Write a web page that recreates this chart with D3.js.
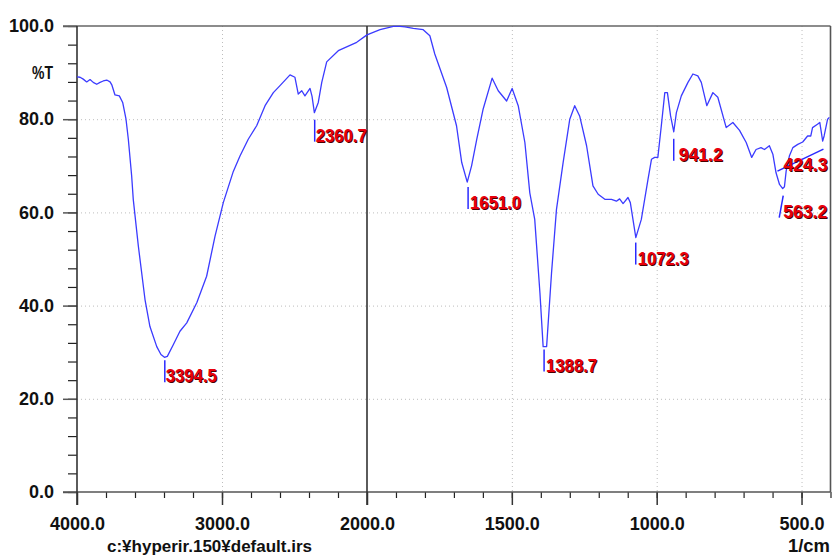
<!DOCTYPE html>
<html>
<head>
<meta charset="utf-8">
<style>
    body { margin: 0; background: #fff; }
    svg { display: block; font-family: 'Liberation Sans', Arial, sans-serif; }
    .peak { font-size: 19px; font-weight: bold; }
</style>
</head>
<body>
<svg width="832" height="557"></svg>
<script src="https://d3js.org/d3.v7.min.js"></script>
<script>
// spectrum: wavenumber (1/cm) and %T
let wavenumbers = [4000, 3979, 3957, 3933, 3910, 3888, 3864, 3841, 3819, 3795, 3772, 3759, 3738, 3708, 3685, 3662,
    3646, 3623, 3612, 3577, 3531, 3497, 3450, 3421, 3397, 3377, 3336, 3290, 3243, 3174, 3106, 3048, 2991, 2922,
    2876, 2819, 2761, 2703, 2646, 2600, 2531, 2497, 2474, 2450, 2428, 2393, 2379, 2363, 2336, 2312, 2278, 2198,
    2071, 2000, 1955, 1909, 1886, 1869, 1840, 1806, 1783, 1766, 1725, 1691, 1673, 1654, 1639, 1621, 1599, 1568,
    1547, 1518, 1499, 1478, 1455, 1438, 1421, 1403, 1392, 1380, 1363, 1346, 1323, 1300, 1283, 1266, 1242, 1220,
    1202, 1179, 1156, 1139, 1128, 1116, 1099, 1091, 1072, 1053, 1030, 1018, 1007, 996, 984, 972, 963, 952, 941,
    932, 915, 892, 875, 858, 846, 827, 806, 789, 760, 737, 714, 691, 672, 657, 640, 628, 611, 599, 588, 576, 565,
    559, 553, 542, 530, 513, 496, 479, 468, 462, 445, 437, 427, 422, 410, 404]
let transmittance = [89.1, 89.0, 88.6, 88.0, 88.5, 87.9, 87.5, 87.9, 88.2, 88.4, 88.0, 87.3, 85.2, 85.0, 83.6, 80.0,
    75.7, 67.8, 62.8, 52.8, 41.3, 35.5, 31.2, 29.5, 28.9, 29.1, 31.6, 34.5, 36.3, 40.6, 46.3, 54.9, 62.1, 68.8,
    72.1, 75.7, 78.6, 82.9, 85.7, 87.2, 89.5, 89.0, 85.4, 86.1, 85.0, 86.6, 84.9, 81.4, 83.6, 87.9, 92.3, 94.7,
    96.5, 98.1, 99.2, 99.9, 99.9, 99.8, 99.5, 99.2, 97.9, 94.0, 86.8, 78.6, 70.7, 66.5, 70.0, 75.7, 82.2, 88.8,
    86.1, 83.9, 86.6, 82.9, 75.0, 64.2, 58.5, 42.7, 31.2, 31.2, 47.0, 60.6, 70.7, 80.0, 82.9, 80.7, 74.3, 65.7,
    63.9, 62.8, 62.8, 62.4, 62.9, 61.9, 63.2, 62.1, 54.6, 58.5, 67.1, 71.4, 71.8, 71.8, 78.6, 85.7, 85.7, 80.7, 77.3,
    81.4, 85.0, 87.9, 89.7, 89.3, 87.9, 82.9, 85.7, 84.7, 78.2, 79.3, 77.6, 75.0, 71.8, 73.5, 73.9, 73.5, 74.3, 72.5,
    68.5, 66.0, 65.1, 65.5, 68.9, 72.1, 73.9, 74.6, 75.1, 76.4, 76.4, 78.2, 78.9, 79.3, 75.3, 76.4, 80.0, 80.4]

// picked peaks
let peakWn = [3394.5, 2360.7, 1651.0, 1388.7, 1072.3, 941.2, 563.2, 424.3]
let peakT = [28.9, 81.4, 66.5, 31.2, 54.6, 77.3, 65.1, 75.3]

let xMajor = [4000, 3000, 2000, 1500, 1000, 500]
let yMajor = [0, 20, 40, 60, 80, 100]

let svg = d3.select("svg")

let pLeft = 77, pRight = 830.5, pTop = 26, pBottom = 492

// the x axis changes scale at 2000
let x = d3.scaleLinear()
    .domain([4000, 2000, 400])
    .range([pLeft, 367, pRight])

let y = d3.scaleLinear()
    .domain([0, 100])
    .range([pBottom, pTop])

let styleText = g => g.selectAll(".tick text")
    .attr("font-size", 18).attr("font-weight", "bold")
    .attr("font-family", "'Liberation Sans', Arial, sans-serif").attr("fill", "#111")

// grid
let grid = svg.append("g")
    .attr("stroke", "#bdbdbd")
    .attr("stroke-dasharray", "1,3")
grid.selectAll("line.h")
    .data(yMajor.filter(d => d > 0 && d < 100))
    .join("line")
    .attr("class", "h")
    .attr("x1", pLeft).attr("x2", pRight)
    .attr("y1", d => y(d) + 0.5).attr("y2", d => y(d) + 0.5)
grid.selectAll("line.v")
    .data([3000, 1500, 1000, 500])
    .join("line")
    .attr("class", "v")
    .attr("x1", d => x(d) + 0.5).attr("x2", d => x(d) + 0.5)
    .attr("y1", pTop).attr("y2", pBottom)

// y axis
let yAxis = svg.append("g")
    .attr("transform", `translate(${pLeft},0)`)
yAxis.append("g")
    .call(d3.axisLeft(y).tickValues(d3.range(0, 101, 4)).tickSize(9).tickFormat(""))
    .call(g => g.select(".domain").remove())
    .call(g => g.selectAll(".tick line").attr("stroke", "#222").attr("stroke-width", 1.2))
yAxis.append("g")
    .call(d3.axisLeft(y).tickValues(yMajor).tickSize(14).tickPadding(9).tickFormat(d3.format(".1f")))
    .call(g => g.select(".domain").remove())
    .call(g => g.selectAll(".tick line").attr("stroke", "#555").attr("stroke-width", 1.5))
    .call(styleText)

svg.append("text")
    .attr("x", 53).attr("y", 79)
    .attr("text-anchor", "end")
    .attr("font-size", 19).attr("font-weight", "bold").attr("fill", "#111")
    .attr("textLength", 21).attr("lengthAdjust", "spacingAndGlyphs")
    .text("%T")

// x axis
let minorX = d3.range(3800, 2000, -200).concat(d3.range(1900, 399, -100))
let xAxis = svg.append("g")
    .attr("transform", `translate(0,${pBottom})`)
xAxis.append("g")
    .call(d3.axisBottom(x).tickValues(minorX).tickSize(6).tickFormat(""))
    .call(g => g.select(".domain").remove())
    .call(g => g.selectAll(".tick line").attr("stroke", "#222").attr("stroke-width", 1.2))
xAxis.append("g")
    .call(d3.axisBottom(x).tickValues(xMajor).tickSize(13).tickPadding(12).tickFormat(d3.format(".1f")))
    .call(g => g.select(".domain").remove())
    .call(g => g.selectAll(".tick line").attr("stroke", "#333").attr("stroke-width", 1.5))
    .call(styleText)

// frame
let frame = svg.append("g").attr("fill", "none").attr("stroke-width", 1.6)
frame.append("line").attr("x1", 63).attr("x2", pRight).attr("y1", pTop).attr("y2", pTop).attr("stroke", "#666")
frame.append("line").attr("x1", 63).attr("x2", pRight).attr("y1", pBottom).attr("y2", pBottom).attr("stroke", "#555")
frame.append("line").attr("x1", pLeft).attr("x2", pLeft).attr("y1", pTop).attr("y2", pBottom + 13).attr("stroke", "#333")
frame.append("line").attr("x1", pRight).attr("x2", pRight).attr("y1", pTop).attr("y2", pBottom).attr("stroke", "#555")
frame.append("line").attr("x1", x(2000)).attr("x2", x(2000)).attr("y1", pTop).attr("y2", pBottom + 13).attr("stroke", "#333")

// spectrum
let pts = wavenumbers.map((w, i) => [w, transmittance[i]])
let line = d3.line()
    .x(d => x(d[0]))
    .y(d => y(d[1]))
svg.append("path")
    .datum(pts)
    .attr("fill", "none")
    .attr("stroke", "#3b3bff")
    .attr("stroke-width", 1.3)
    .attr("stroke-linejoin", "round")
    .attr("d", line)

// peak markers; the two last ones are pulled left to stay inside the frame
let markShift = [0, 0, 0, 0, 0, 0, -4, -46]
let textShift = [1, 1, 2, 2, 2, 5, 4, 6]
let gap = [3, 7, 5, 3, 5, 7, 7, 8]

peakWn.forEach((w, i) => {
    let px = x(w), py = y(peakT[i]) + gap[i]
    let bx = px + markShift[i], by = py + 22
    svg.append("line")
        .attr("x1", px).attr("y1", py)
        .attr("x2", bx).attr("y2", by)
        .attr("stroke", "#2a2aff").attr("stroke-width", 1.5)
    let lbl = d3.format(".1f")(w)
    let len = lbl.length * 7 + 9
    svg.append("text")
        .attr("class", "peak")
        .attr("x", bx + textShift[i] + 1).attr("y", by + 1)
        .attr("fill", "#4a0000")
        .attr("textLength", len).attr("lengthAdjust", "spacingAndGlyphs")
        .text(lbl)
    svg.append("text")
        .attr("class", "peak")
        .attr("x", bx + textShift[i]).attr("y", by)
        .attr("fill", "#e8000c")
        .attr("textLength", len).attr("lengthAdjust", "spacingAndGlyphs")
        .text(lbl)
})

// footer
svg.append("text")
    .attr("x", 107).attr("y", 552)
    .attr("font-size", 16).attr("font-weight", "bold").attr("fill", "#111")
    .attr("textLength", 205).attr("lengthAdjust", "spacingAndGlyphs")
    .text("c:¥hyperir.150¥default.irs")
svg.append("text")
    .attr("x", 830).attr("y", 552)
    .attr("text-anchor", "end")
    .attr("font-size", 18).attr("font-weight", "bold").attr("fill", "#111")
    .attr("textLength", 42).attr("lengthAdjust", "spacingAndGlyphs")
    .text("1/cm")
</script>
</body>
</html>
